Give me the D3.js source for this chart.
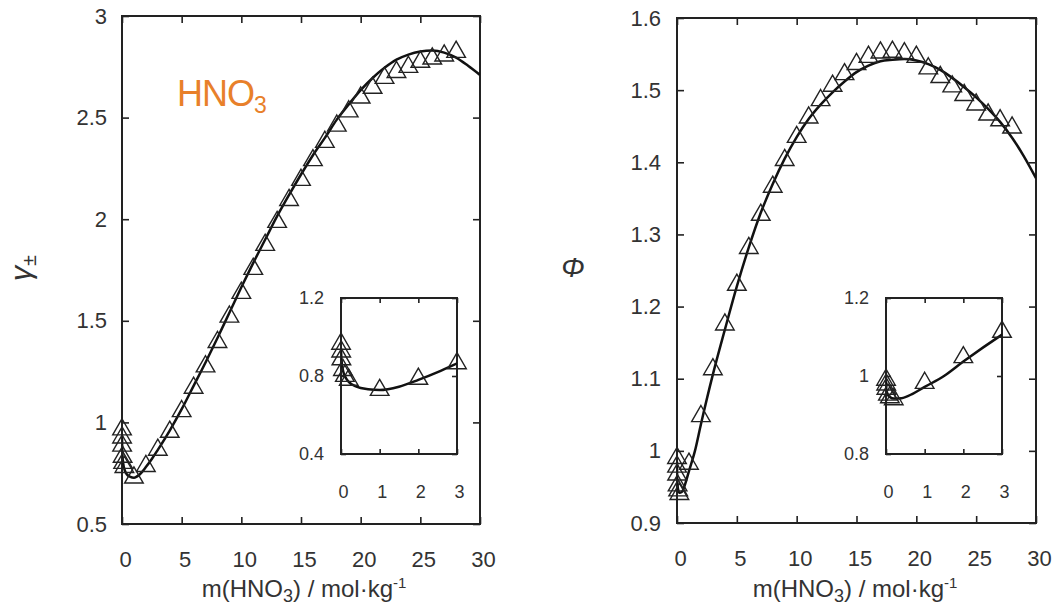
<!DOCTYPE html>
<html>
<head>
<meta charset="utf-8">
<script src="https://cdn.jsdelivr.net/npm/d3@7"></script>
<style>
  body { margin: 0; background: #fff; }
  svg text { font-family: "Liberation Sans", Arial, sans-serif; fill: #333; }
</style>
</head>
<body>
<svg id="chart" width="1055" height="605"></svg>
<script>
// ---- Mean activity coefficient of HNO3: measured points ----
const gammaExpM = [0.001, 0.005, 0.01, 0.05, 0.1, 0.2,
  1, 2, 3, 4, 5, 6, 7, 8, 9, 10, 11, 12, 13, 14, 15, 16, 17, 18, 19, 20, 21, 22, 23, 24, 25, 26, 27, 28];
const gammaExp = [0.965, 0.925, 0.885, 0.83, 0.80, 0.78,
  0.728, 0.785, 0.865, 0.953, 1.055, 1.17, 1.275, 1.395, 1.52, 1.637, 1.755, 1.873, 1.986, 2.094,
  2.193, 2.29, 2.38, 2.46, 2.53, 2.598, 2.646, 2.695, 2.724, 2.749, 2.774, 2.79, 2.805, 2.823];

// ---- Mean activity coefficient: model curve ----
const gammaFitM = [0.001, 0.01, 0.05, 0.1, 0.2, 0.4, 0.7, 1, 1.5, 2, 2.5, 3, 4, 5, 6, 7, 8, 9, 10,
  11, 12, 13, 14, 15, 16, 17, 18, 19, 20, 21, 22, 23, 24, 25, 26, 27, 28, 29, 30];
const gammaFit = [0.94, 0.89, 0.83, 0.80, 0.77, 0.745, 0.732, 0.728, 0.745, 0.78, 0.82, 0.865, 0.96,
  1.065, 1.18, 1.295, 1.415, 1.54, 1.665, 1.785, 1.90, 2.015, 2.12, 2.22, 2.315, 2.40, 2.49, 2.565,
  2.635, 2.695, 2.745, 2.785, 2.81, 2.825, 2.83, 2.82, 2.795, 2.755, 2.71];

// ---- Osmotic coefficient of HNO3: measured points ----
const phiExpM = [0.001, 0.005, 0.01, 0.05, 0.1, 0.2,
  1, 2, 3, 4, 5, 6, 7, 8, 9, 10, 11, 12, 13, 14, 15, 16, 17, 18, 19, 20, 21, 22, 23, 24, 25, 26, 27, 28];
const phiExp = [0.99, 0.978, 0.967, 0.952, 0.945, 0.94,
  0.982, 1.048, 1.113, 1.175, 1.23, 1.281, 1.327, 1.366, 1.403, 1.435, 1.462, 1.486, 1.506, 1.522,
  1.536, 1.546, 1.552, 1.553, 1.551, 1.546, 1.530, 1.518, 1.505, 1.493, 1.480, 1.466, 1.458, 1.448];

// ---- Osmotic coefficient: model curve ----
const phiFitM = [0.001, 0.01, 0.05, 0.1, 0.2, 0.4, 0.7, 1, 1.5, 2, 3, 4, 5, 6, 7, 8, 9, 10,
  11, 12, 13, 14, 15, 16, 17, 18, 19, 20, 21, 22, 23, 24, 25, 26, 27, 28, 29, 30];
const phiFit = [0.985, 0.965, 0.952, 0.946, 0.942, 0.943, 0.955, 0.972, 1.0, 1.037, 1.106, 1.168,
  1.228, 1.282, 1.33, 1.37, 1.405, 1.435, 1.46, 1.48, 1.497, 1.512, 1.525, 1.534, 1.54, 1.542,
  1.543, 1.541, 1.536, 1.528, 1.517, 1.504, 1.49, 1.474, 1.456, 1.434, 1.408, 1.378];

// ---- Tick values ----
const mainXTicks = [0, 5, 10, 15, 20, 25, 30];
const gammaTicks = [0.5, 1, 1.5, 2, 2.5, 3];
const phiTicks = [0.9, 1, 1.1, 1.2, 1.3, 1.4, 1.5, 1.6];
const insetXTicks = [0, 1, 2, 3];
const gammaInsetTicks = [0.4, 0.8, 1.2];
const phiInsetTicks = [0.8, 1, 1.2];

const svg = d3.select("#chart");
const INK = "#222";
let clipId = 0;

function zip(ms, vs) { return ms.map((m, i) => ({ m, v: vs[i] })); }

// Draws one boxed plot (main panel or inset) with inward mirrored ticks
function box(o) {
  const x = d3.scaleLinear().domain(o.xDomain).range([o.x0, o.x1]);
  const y = d3.scaleLinear().domain(o.yDomain).range([o.y1, o.y0]);
  const g = svg.append("g");
  const id = "clip" + (clipId++);
  g.append("clipPath").attr("id", id).append("rect")
    .attr("x", o.x0).attr("y", o.y0).attr("width", o.x1 - o.x0).attr("height", o.y1 - o.y0);

  if (o.fill) {
    g.append("rect").attr("x", o.x0).attr("y", o.y0)
      .attr("width", o.x1 - o.x0).attr("height", o.y1 - o.y0).attr("fill", "#fff");
  }

  const fmt = d => String(d);
  const style = sel => {
    sel.select(".domain").remove();
    sel.selectAll(".tick line").attr("stroke", INK).attr("stroke-width", 1.6);
    sel.selectAll(".tick text").attr("fill", "#333").style("font-size", o.fontSize + "px");
  };

  // bottom (labelled) and top (mirror) x ticks
  g.append("g").attr("transform", `translate(0,${o.y1})`)
    .call(d3.axisBottom(x).tickValues(o.xTicks).tickSize(-o.tick).tickPadding(o.xPad).tickFormat(fmt))
    .call(style)
    .call(s => s.selectAll(".tick text").attr("dx", o.xdx));
  g.append("g").attr("transform", `translate(0,${o.y0})`)
    .call(d3.axisTop(x).tickValues(o.xTicks).tickSize(-o.tick).tickFormat(""))
    .call(style);
  // left (labelled) and right (mirror) y ticks
  g.append("g").attr("transform", `translate(${o.x0},0)`)
    .call(d3.axisLeft(y).tickValues(o.yTicks).tickSize(-o.tick).tickPadding(o.yPad).tickFormat(fmt))
    .call(style);
  g.append("g").attr("transform", `translate(${o.x1},0)`)
    .call(d3.axisRight(y).tickValues(o.yTicks).tickSize(-o.tick).tickFormat(""))
    .call(style);

  // frame
  g.append("rect").attr("x", o.x0).attr("y", o.y0)
    .attr("width", o.x1 - o.x0).attr("height", o.y1 - o.y0)
    .attr("fill", "none").attr("stroke", INK).attr("stroke-width", 2);

  // model curve
  const line = d3.line().x(d => x(d.m)).y(d => y(d.v)).curve(d3.curveMonotoneX);
  g.append("path").datum(zip(o.fitM, o.fit))
    .attr("clip-path", `url(#${id})`)
    .attr("d", line).attr("fill", "none").attr("stroke", "#111")
    .attr("stroke-width", 2.5).attr("stroke-linejoin", "round");

  // measured points as open triangles
  const tri = d3.symbol().type(d3.symbolTriangle).size(o.markerSize);
  g.append("g").selectAll("path")
    .data(zip(o.expM, o.exp).filter(d => d.m >= o.xDomain[0] && d.m <= o.xDomain[1]))
    .join("path")
    .attr("transform", d => `translate(${x(d.m)},${y(d.v)})`)
    .attr("d", tri).attr("fill", "none").attr("stroke", "#222").attr("stroke-width", 1.4);
  return g;
}

// ---- Left: activity coefficient ----
box({ x0: 122, x1: 480, y0: 16, y1: 524, xDomain: [0, 30], yDomain: [0.5, 3],
  xTicks: mainXTicks, yTicks: gammaTicks, tick: 7, xPad: 27, yPad: 15, xdx: 3, fontSize: 22,
  fitM: gammaFitM, fit: gammaFit, expM: gammaExpM, exp: gammaExp, markerSize: 150 });
box({ x0: 341, x1: 457, y0: 298, y1: 454, xDomain: [0, 3], yDomain: [0.4, 1.2], fill: true,
  xTicks: insetXTicks, yTicks: gammaInsetTicks, tick: 5, xPad: 31, yPad: 17, xdx: 2, fontSize: 18,
  fitM: gammaFitM, fit: gammaFit, expM: gammaExpM, exp: gammaExp, markerSize: 150 });

// ---- Right: osmotic coefficient ----
box({ x0: 677, x1: 1036, y0: 18, y1: 523, xDomain: [0, 30], yDomain: [0.9, 1.6],
  xTicks: mainXTicks, yTicks: phiTicks, tick: 7, xPad: 27, yPad: 16, xdx: 3, fontSize: 22,
  fitM: phiFitM, fit: phiFit, expM: phiExpM, exp: phiExp, markerSize: 150 });
box({ x0: 886, x1: 1002, y0: 298, y1: 454, xDomain: [0, 3], yDomain: [0.8, 1.2], fill: true,
  xTicks: insetXTicks, yTicks: phiInsetTicks, tick: 5, xPad: 31, yPad: 17, xdx: 2, fontSize: 18,
  fitM: phiFitM, fit: phiFit, expM: phiExpM, exp: phiExp, markerSize: 150 });

// ---- Axis titles ----
function xTitle(cx) {
  const t = svg.append("text").attr("x", cx).attr("y", 597).attr("text-anchor", "middle")
    .style("font-size", "24px");
  t.append("tspan").text("m(HNO");
  t.append("tspan").attr("dy", 5).style("font-size", "18px").text("3");
  t.append("tspan").attr("dy", -5).text(") / mol·kg");
  t.append("tspan").attr("dy", -9).style("font-size", "15px").text("-1");
}
xTitle(304);
xTitle(855);

const gl = svg.append("text").attr("transform", "translate(31,268) rotate(-90)")
  .attr("text-anchor", "middle").style("font-size", "30px");
gl.append("tspan").style("font-style", "italic").text("γ");
gl.append("tspan").attr("dy", 5).style("font-size", "20px").text("±");

svg.append("text").attr("x", 573).attr("y", 277)
  .attr("text-anchor", "middle").style("font-size", "28px")
  .style("font-style", "italic").text("Φ");

// ---- Electrolyte label ----
const lab = svg.append("text").attr("x", 177).attr("y", 106).style("font-size", "36px")
  .style("letter-spacing", "-1px");
lab.append("tspan").style("fill", "#e8802a").text("HNO");
lab.append("tspan").attr("dy", 7).style("font-size", "23px").style("fill", "#e8802a").text("3");
</script>
</body>
</html>
